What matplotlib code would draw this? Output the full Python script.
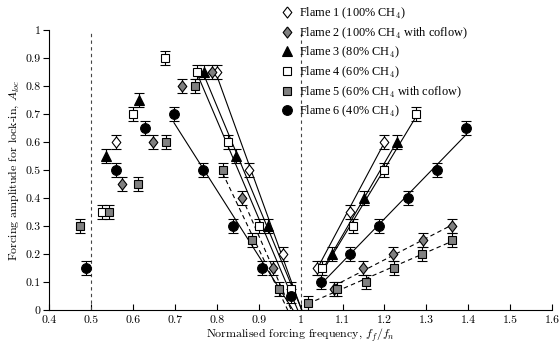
import numpy as np
import matplotlib
matplotlib.use('Agg')
import matplotlib.pyplot as plt
from matplotlib.lines import Line2D

plt.rcParams['mathtext.fontset'] = 'cm'
plt.rcParams['axes.formatter.use_mathtext'] = True

# flame data: (left branch, right branch) of normalised frequency / lock-in amplitude
f1_lx = [0.56, 0.80, 0.876, 0.957]
f1_ly = [0.60, 0.85, 0.50, 0.20]
f1_rx = [1.038, 1.117, 1.198]
f1_ry = [0.15, 0.35, 0.60]

f2_lx = [0.575, 0.647, 0.718, 0.789, 0.861, 0.934]
f2_ly = [0.45, 0.60, 0.80, 0.85, 0.40, 0.15]
f2_rx = [1.079, 1.148, 1.22, 1.293, 1.362]
f2_ry = [0.075, 0.15, 0.20, 0.25, 0.30]

f3_lx = [0.537, 0.615, 0.769, 0.845, 0.922]
f3_ly = [0.55, 0.75, 0.85, 0.55, 0.30]
f3_rx = [1.074, 1.152, 1.229]
f3_ry = [0.20, 0.40, 0.60]

f4_lx = [0.526, 0.60, 0.676, 0.752, 0.826, 0.90, 0.976]
f4_ly = [0.35, 0.70, 0.90, 0.85, 0.60, 0.30, 0.075]
f4_rx = [1.052, 1.125, 1.20, 1.276]
f4_ry = [0.15, 0.30, 0.50, 0.70]

f5_lx = [0.474, 0.543, 0.613, 0.679, 0.748, 0.814, 0.883, 0.949]
f5_ly = [0.30, 0.35, 0.45, 0.60, 0.80, 0.50, 0.25, 0.075]
f5_rx = [1.018, 1.086, 1.155, 1.222, 1.29, 1.36]
f5_ry = [0.025, 0.075, 0.10, 0.15, 0.20, 0.25]

f6_lx = [0.488, 0.56, 0.628, 0.698, 0.767, 0.838, 0.907, 0.978]
f6_ly = [0.15, 0.50, 0.65, 0.70, 0.50, 0.30, 0.15, 0.05]
f6_rx = [1.048, 1.117, 1.186, 1.255, 1.326, 1.395]
f6_ry = [0.10, 0.20, 0.30, 0.40, 0.50, 0.65]

err = 0.025

labels = ['Flame 1 (100% CH$_4$)',
          'Flame 2 (100% CH$_4$ with coflow)',
          'Flame 3 (80% CH$_4$)',
          'Flame 4 (60% CH$_4$)',
          'Flame 5 (60% CH$_4$ with coflow)',
          'Flame 6 (40% CH$_4$)']

grey = '#808080'
diamond = [(0, 1), (0.78, 0), (0, -1), (-0.78, 0), (0, 1)]
# marker, size, face colour, line style, first left point used for fit, right line start
styles = [(diamond, 8, 'white', '-', 1, None),
          (diamond, 8, grey, '--', 4, None),
          ('^', 7, 'black', '-', 2, 1.05),
          ('s', 6, 'white', '-', 3, None),
          ('s', 6, grey, '--', 5, None),
          ('o', 7, 'black', '-', 3, None)]

flames = [(f1_lx, f1_ly, f1_rx, f1_ry),
          (f2_lx, f2_ly, f2_rx, f2_ry),
          (f3_lx, f3_ly, f3_rx, f3_ry),
          (f4_lx, f4_ly, f4_rx, f4_ry),
          (f5_lx, f5_ly, f5_rx, f5_ry),
          (f6_lx, f6_ly, f6_rx, f6_ry)]

fig = plt.figure(figsize=(5.6, 3.5), dpi=100)
ax = fig.add_axes([0.0875, 0.1143, 0.8985, 0.80])

ax.plot([0.5, 0.5], [0, 1], color='#444444', ls=(0, (3, 3)), lw=0.8)
ax.plot([1.0, 1.0], [0, 1], color='#444444', ls=(0, (3, 3)), lw=0.8)

handles = []
for (lx, ly, rx, ry), (mk, ms, fc, ls, i0, rstart) in zip(flames, styles):
    dash = (4, 3) if ls == '--' else (None, None)
    # left branch linear fit, drawn down to zero amplitude
    p = np.polyfit(lx[i0:], ly[i0:], 1)
    xs = np.array([lx[i0], -p[1] / p[0]])
    ax.plot(xs, np.polyval(p, xs), color='k', lw=0.8, ls=ls, dashes=dash, zorder=2)
    # right branch fit
    q = np.polyfit(rx, ry, 1)
    x0 = rstart if rstart is not None else rx[0]
    xs = np.array([x0, rx[-1]])
    ax.plot(xs, np.polyval(q, xs), color='k', lw=0.8, ls=ls, dashes=dash, zorder=2)
    for xx, yy in [(lx, ly), (rx, ry)]:
        ax.errorbar(xx, yy, yerr=err, fmt='none', ecolor='k', elinewidth=0.8,
                    capsize=3.5, capthick=0.8, zorder=3)
        ax.plot(xx, yy, ls='none', marker=mk, ms=ms, mfc=fc, mec='k', mew=0.8, zorder=4)
    handles.append(Line2D([], [], marker=mk, ms=ms, mfc=fc, mec='k', mew=0.8, ls='none'))

ax.set_xlim(0.4, 1.6)
ax.set_ylim(0, 1)
ax.set_xticks(np.arange(0.4, 1.61, 0.1))
ax.set_xticklabels(['0.4', '0.5', '0.6', '0.7', '0.8', '0.9', '1', '1.1', '1.2', '1.3', '1.4', '1.5', '1.6'])
ax.set_yticks(np.arange(0, 1.01, 0.1))
ax.set_yticklabels(['0', '0.1', '0.2', '0.3', '0.4', '0.5', '0.6', '0.7', '0.8', '0.9', '1'])
ax.spines['top'].set_visible(False)
ax.spines['right'].set_visible(False)
ax.tick_params(axis='x', direction='in', length=4, width=0.8, pad=4)
ax.tick_params(axis='y', direction='out', length=4, width=0.8, pad=2)
for lab in ax.get_xticklabels() + ax.get_yticklabels():
    lab.set_family('cmr10')
    lab.set_fontsize(8.5)

ax.set_xlabel('Normalised forcing frequency, $f_f/f_n$', family='cmr10', fontsize=8.6, labelpad=1)
ax.set_ylabel('Forcing amplitude for lock-in, $A_{loc}$', family='cmr10', fontsize=8.6, labelpad=3)

leg = fig.legend(handles, labels, loc='upper left', bbox_to_anchor=(0.4857, 1.0086),
                 frameon=False, handlelength=1.0, handletextpad=0.5, labelspacing=0.35,
                 borderpad=0.2, prop={'family': 'Liberation Serif', 'size': 8.8})

fig.savefig('out.png', dpi=100, facecolor='white')
